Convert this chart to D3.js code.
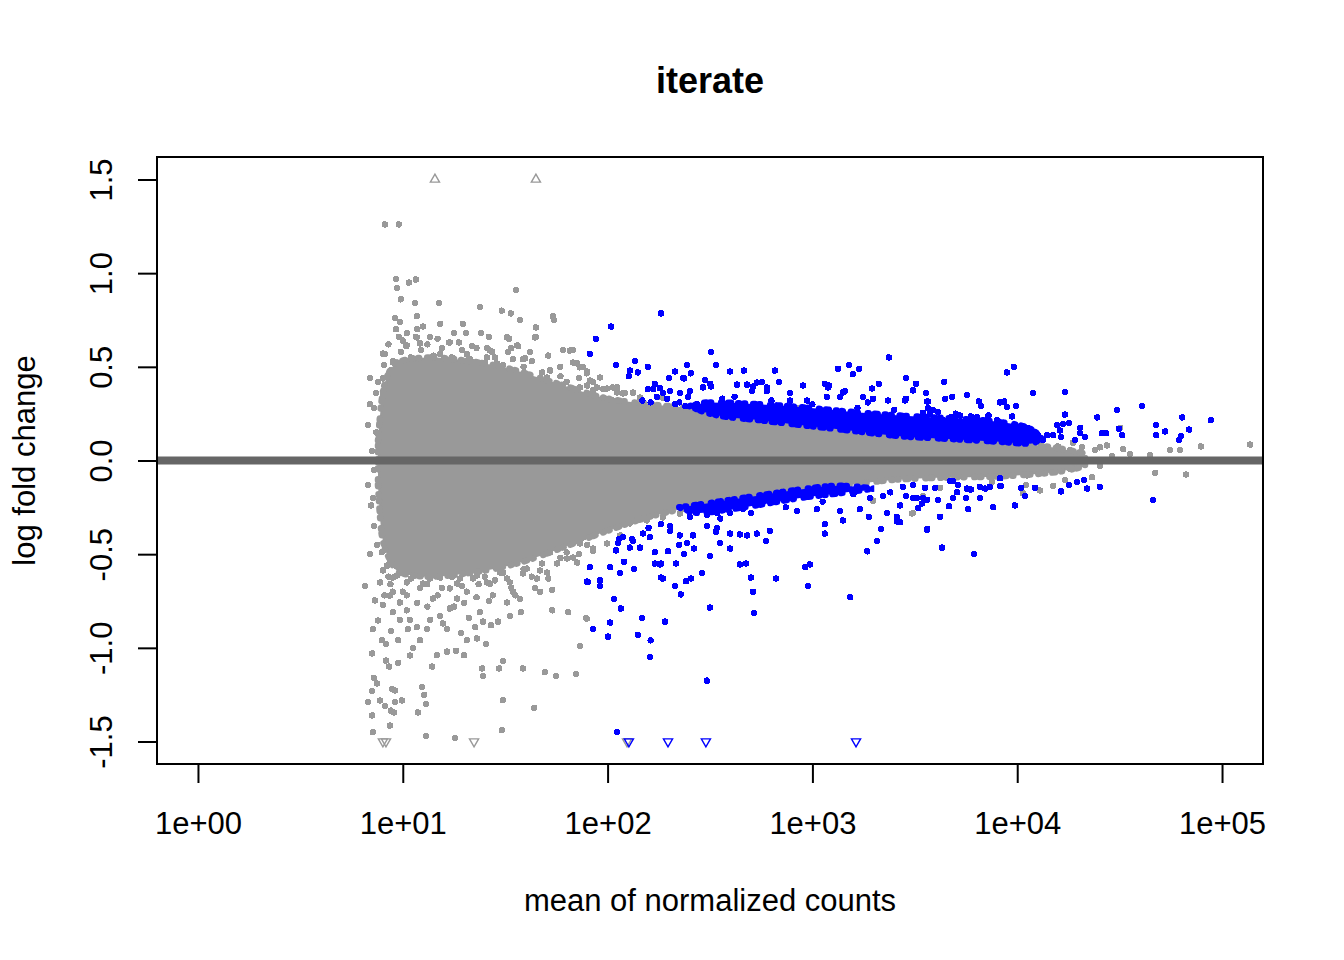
<!DOCTYPE html>
<html>
<head>
<meta charset="utf-8">
<script src="https://cdn.jsdelivr.net/npm/d3@7"></script>
<style>
  body { margin: 0; background: #fff; }
  svg text { font-family: "Liberation Sans", Arial, sans-serif; fill: #000; }
</style>
</head>
<body>
<div id="chart"></div>
<script>
// MA plot, values: [log10(mean of normalized counts), log fold change]
const titleText = "iterate";
const xTicks = [1, 10, 100, 1000, 10000, 100000];
const xTickLabels = ["1e+00", "1e+01", "1e+02", "1e+03", "1e+04", "1e+05"];
const yTicks = [-1.5, -1.0, -0.5, 0.0, 0.5, 1.0, 1.5];
const yTickLabels = ["-1.5", "-1.0", "-0.5", "0.0", "0.5", "1.0", "1.5"];

// dense core of the non-significant cloud: log10 mean, low edge, high edge
const coreLogMean = [0.879, 0.898, 0.9375, 0.986, 1.133, 1.328, 1.523, 1.670, 1.816, 1.963, 2.207, 2.451, 2.695, 2.939, 3.184, 3.428, 3.672, 3.916, 4.063, 4.209, 4.331];
const coreLow  = [-0.133, -0.400, -0.530, -0.600, -0.620, -0.600, -0.560, -0.510, -0.450, -0.390, -0.300, -0.240, -0.198, -0.160, -0.128, -0.101, -0.091, -0.085, -0.075, -0.059, -0.032];
const coreHigh = [0.107, 0.330, 0.480, 0.530, 0.550, 0.530, 0.490, 0.440, 0.390, 0.340, 0.300, 0.275, 0.235, 0.198, 0.166, 0.139, 0.117, 0.101, 0.085, 0.064, 0.037];

// dense bands of significant genes
const upBandLogMean = [2.40, 2.50, 2.744, 2.939, 3.184, 3.428, 3.672, 3.916, 4.063, 4.12];
const upBandLow  = [0.29, 0.25, 0.215, 0.190, 0.160, 0.130, 0.115, 0.100, 0.090, 0.12];
const upBandHigh = [0.29, 0.31, 0.300, 0.285, 0.260, 0.240, 0.225, 0.205, 0.170, 0.12];
const downBandLogMean = [2.35, 2.45, 2.60, 2.75, 2.94, 3.13, 3.30];
const downBandLow  = [-0.25, -0.280, -0.260, -0.235, -0.200, -0.175, -0.15];
const downBandHigh = [-0.25, -0.235, -0.210, -0.185, -0.155, -0.135, -0.15];

const grayPoints = [
  [0.913,1.26],[0.981,1.26],[0.967,0.97],[0.972,0.92],[1.03,0.95],[1.064,0.966],[0.991,0.86],[1.06,0.84],[1.177,0.84],[1.377,0.82],
  [1.553,0.91],[1.484,0.80],[1.528,0.785],[1.572,0.75],[1.733,0.77],[1.738,0.75],[0.962,0.76],[1.069,0.77],[0.986,0.74],[0.967,0.70],
  [1.099,0.715],[1.182,0.73],[1.294,0.73],[1.309,0.68],[1.382,0.68],[1.650,0.71],[1.650,0.66],[0.981,0.66],[1.064,0.66],[1.133,0.66],
  [1.519,0.65],[0.84,0.44],[0.859,0.28],[0.83,0.19],[0.903,0.35],[0.908,0.51],[0.952,0.53],[1.016,0.61],[1.226,0.63],[1.274,0.63],
  [1.338,0.61],[1.411,0.60],[1.436,0.58],[1.514,0.58],[1.563,0.61],[1.621,0.58],[1.782,0.59],[1.831,0.59],[1.851,0.52],[1.768,0.50],
  [1.719,0.48],[1.313,0.57],[1.343,0.52],[1.411,0.55],[1.538,0.54],[1.587,0.54],[1.128,0.53],[1.182,0.57],[0.913,0.57],[1.880,0.50],
  [1.899,0.475],[1.929,0.42],[1.978,0.38],[2.046,0.39],[2.085,0.36],[2.124,0.36],[1.865,0.39],[1.831,0.32],[1.802,0.19],
  [0.903,0.571],[0.952,0.523],[1.020,0.614],[1.084,0.625],[1.230,0.630],[1.313,0.566],[1.426,0.587],[1.509,0.657],[1.558,0.614],[1.597,0.545],
  [1.646,0.657],[1.719,0.481],[1.816,0.587],[1.831,0.523],[1.899,0.465],[1.948,0.390],[1.997,0.384],[2.046,0.363],[0.903,0.438],[0.952,0.427],
  [1.069,0.657],[1.216,0.523],[1.362,0.523],[1.460,0.518],[1.489,0.443],[1.704,0.443],[1.851,0.518],[1.963,0.443],[2.026,0.320],
  [1.865,0.497],[1.914,0.427],[1.929,0.374],[2.026,0.39],[2.075,0.358],[2.124,0.363],[2.158,0.336],[2.266,0.336],[2.925,0.278],[2.437,0.278],
  [1.05,0.50],[1.16,0.51],[1.27,0.49],[1.38,0.48],[1.46,0.47],[1.60,0.45],[1.00,0.50],[1.20,0.46],[1.74,0.40],[1.56,0.46],
  [0.93,0.62],[0.99,0.58],[1.04,0.55],[1.09,0.59],[1.12,0.62],[1.15,0.56],[1.19,0.60],[1.24,0.55],[1.29,0.59],[1.33,0.54],
  [1.36,0.60],[1.40,0.52],[1.45,0.55],[1.49,0.51],[1.53,0.60],[1.59,0.50],[1.63,0.53],[1.68,0.47],[1.71,0.56],[1.77,0.45],
  [1.80,0.42],[1.86,0.44],[1.90,0.40],[0.96,0.46],[1.11,0.49],[1.22,0.50],[1.34,0.48],[1.48,0.49],[1.07,0.70],[1.25,0.68],
  [1.42,0.66],[1.00,0.64],[0.94,0.48],[1.02,0.68],[1.17,0.65],
  [0.85,0.05],[0.86,-0.05],[0.84,0.30],[0.87,0.36],[0.86,-0.35],[0.84,-0.50],[0.87,0.15],[0.855,-0.20],[0.88,0.42],[0.875,-0.45],
  [0.83,-0.13],[0.845,-0.24],[0.815,-0.67],[0.933,-0.44],[0.898,-0.49],[0.903,-0.77],[0.854,-0.90],[0.942,-0.91],[0.898,-0.96],[0.918,-0.98],
  [0.850,-1.03],[0.977,-0.96],[1.025,-0.90],[1.084,-0.96],[1.050,-1.00],[0.933,-1.10],[0.977,-1.08],[0.859,-1.16],[0.874,-1.19],[0.850,-1.23],
  [0.830,-1.29],[0.947,-1.22],[0.913,-1.31],[0.942,-1.335],[0.962,-1.29],[0.957,-1.345],[1.094,-1.21],[1.104,-1.25],[1.113,-1.30],[1.074,-1.345],
  [0.854,-1.45],[1.113,-1.47],[1.255,-1.48],[1.484,-1.44],[1.489,-1.28],[1.641,-1.32],[1.143,-1.10],[1.167,-1.04],[1.216,-1.02],[1.260,-1.015],
  [1.299,-1.04],[1.387,-1.11],[1.392,-1.15],[1.470,-1.11],[1.489,-1.07],[1.587,-1.11],[1.694,-1.13],[1.748,-1.15],[1.846,-1.14],[1.865,-0.99],
  [1.895,-0.84],[1.729,-0.80],[1.807,-0.81],[1.577,-0.81],[1.406,-0.98],[1.362,-0.95],[1.313,-0.96],[1.284,-0.92],[1.353,-0.89],[1.392,-0.86],
  [1.465,-0.86],[1.523,-0.83],[1.431,-0.88],[1.323,-0.84],[1.216,-0.90],[1.196,-0.87],[1.182,-0.83],[1.118,-0.90],[1.069,-0.89],[1.133,-0.85],
  [1.035,-0.85],[0.986,-0.85],[0.952,-0.81],[1.23,-0.79],[1.377,-0.81],[1.572,-0.74],[1.538,-0.70],[1.670,-0.70],[1.729,-0.69],[1.646,-0.68],
  [1.44,-0.72],[1.313,-0.70],[1.084,-0.68],[1.02,-0.72],[0.952,-0.70],[0.864,-0.747],[0.879,-0.854],[0.918,-1.068],[0.962,-1.228],[0.889,-1.281],
  [0.850,-1.361],[0.9375,-1.415],[1.035,-1.041],[0.996,-1.281],
  [0.9375,-0.534],[0.903,-0.587],[0.952,-0.625],[1.020,-0.587],[1.099,-0.657],[1.182,-0.625],[1.265,-0.657],[1.343,-0.630],[1.426,-0.657],[1.509,-0.630],
  [1.587,-0.603],[1.670,-0.587],[1.753,-0.550],[1.831,-0.518],[1.865,-0.443],[1.929,-0.481],[1.997,-0.443],[0.923,-0.561],[0.972,-0.614],[1.020,-0.651],
  [1.069,-0.577],[1.133,-0.630],[1.230,-0.683],[1.279,-0.630],[1.362,-0.614],[1.411,-0.651],[1.475,-0.598],[1.523,-0.651],[1.606,-0.577],[1.655,-0.630],
  [1.704,-0.598],[1.802,-0.523],[1.851,-0.545],[0.889,-0.651],[0.9375,-0.721],[0.986,-0.758],[1.147,-0.737],[1.265,-0.737],[1.509,-0.758],
  [1.05,-0.56],[1.18,-0.57],[1.31,-0.56],[1.45,-0.55],[1.56,-0.53],[1.72,-0.49],[1.00,-0.58],[1.25,-0.59],[1.40,-0.58],[1.62,-0.52],
  [0.93,-0.62],[0.99,-0.60],[1.04,-0.63],[1.09,-0.61],[1.12,-0.66],[1.15,-0.60],[1.19,-0.68],[1.24,-0.62],[1.29,-0.67],[1.33,-0.60],
  [1.37,-0.66],[1.40,-0.62],[1.45,-0.64],[1.49,-0.60],[1.53,-0.68],[1.59,-0.58],[1.63,-0.62],[1.68,-0.55],[1.71,-0.63],[1.77,-0.52],
  [1.80,-0.49],[1.86,-0.50],[1.90,-0.45],[0.96,-0.56],[1.11,-0.58],[1.22,-0.57],[1.34,-0.58],[1.48,-0.57],[1.07,-0.76],[1.25,-0.78],
  [1.42,-0.75],[1.00,-0.70],[0.94,-0.66],[1.02,-0.80],[1.17,-0.72],[1.30,-0.76],[1.36,-0.73],[1.55,-0.72],[1.12,-0.78],[0.91,-0.72],
  [1.880,-0.411],[1.929,-0.470],[1.899,-0.844],[2.061,-0.40],[2.109,-0.336],[2.192,-0.320],[2.270,-0.304],[2.353,-0.283],[1.997,-0.336],[3.486,-0.283],[3.296,-0.214],
  [5.137,0.085],[4.897,0.075],[4.795,0.055],[4.746,0.055],[4.517,0.06],[4.502,0.175],[4.648,0.03],[4.551,0.035],[4.463,0.025],[4.404,0.07],
  [4.438,0.08],[4.380,0.055],[4.316,0.07],[4.272,0.095],[4.258,0.055],[4.199,0.075],[4.673,-0.065],[4.824,-0.075],[4.404,-0.03],[4.365,-0.09],
  [4.258,-0.045],[4.233,-0.105],[4.175,-0.135],[4.111,-0.16],[4.048,-0.08],[4.043,-0.13],[4.028,-0.175],[3.877,-0.115],[3.735,0.205],[3.491,-0.28],
  [3.540,-0.19],[3.623,-0.145],[4.146,0.015]
];

const bluePoints = [
  [2.017,0.715],[1.943,0.65],[1.914,0.57],[2.041,0.51],[2.134,0.53],[2.109,0.48],[2.104,0.45],[2.148,0.47],
  [2.261,0.785],[2.505,0.58],[2.197,0.50],[2.388,0.51],[2.329,0.475],[2.407,0.465],[2.300,0.44],[2.368,0.44],[2.529,0.51],[2.598,0.475],
  [2.666,0.48],[2.817,0.48],[2.754,0.42],[2.837,0.42],[2.954,0.40],[3.076,0.39],[3.125,0.49],[3.179,0.51],[3.228,0.49],[3.198,0.46],
  [3.374,0.55],[3.325,0.41],[3.457,0.44],[3.506,0.41],[2.476,0.43],[2.466,0.39],[2.505,0.395],[2.632,0.405],[2.681,0.405],[2.710,0.395],
  [2.705,0.37],[2.231,0.41],[2.256,0.385],[2.222,0.38],[2.197,0.38],[2.270,0.36],[2.305,0.37],[2.353,0.36],[2.393,0.34],[2.402,0.37],
  [2.241,0.34],[2.290,0.33],[2.437,0.30],[2.891,0.36],[2.891,0.32],[2.778,0.37],[2.974,0.32],[3.071,0.34],[3.135,0.34],[3.159,0.37],
  [3.247,0.34],[3.369,0.32],[3.452,0.32],[3.271,0.31],[2.17,0.32],[2.21,0.31],[2.35,0.31],[2.38,0.29],[2.33,0.30],[2.373,0.438],
  [3.081,0.40],[3.291,0.384],[3.560,0.315],[2.50,0.41],[2.729,0.416],[2.778,0.39],[3.061,0.41],[3.149,0.363],[3.296,0.33],[3.491,0.374],
  [3.643,0.42],[3.555,0.36],[3.457,0.33],[3.564,0.315],[3.648,0.33],[3.682,0.34],[3.755,0.35],[3.813,0.315],[3.823,0.29],[3.916,0.31],
  [3.936,0.315],[3.950,0.285],[3.994,0.29],[3.950,0.47],[3.984,0.50],[4.077,0.36],[4.233,0.365],[4.233,0.245],[4.194,0.19],[4.223,0.195],
  [4.253,0.20],[4.209,0.16],[4.214,0.125],[4.307,0.175],[4.307,0.145],[4.331,0.125],[4.282,0.11],[4.390,0.23],[4.414,0.145],[4.434,0.145],
  [4.487,0.27],[4.497,0.17],[4.512,0.135],[4.609,0.29],[4.678,0.19],[4.678,0.135],[4.722,0.155],[4.805,0.23],[4.839,0.165],[4.800,0.13],
  [4.790,0.11],[4.946,0.215],[4.102,0.135],[4.126,0.11],[4.097,0.105],[4.146,0.135],[4.175,0.135],[4.048,0.175],[4.028,0.15],[3.975,0.235],
  [3.901,0.215],[3.857,0.225],[3.804,0.23],[3.774,0.235],[3.721,0.24],[3.677,0.23],[3.638,0.215],[3.589,0.27],[3.564,0.28],[3.574,0.25],
  [3.540,0.255],[3.613,0.26],[2.56,0.33],[2.62,0.34],[2.80,0.32],[3.00,0.30],[3.22,0.28],[3.40,0.27],[3.70,0.25],[3.86,0.24],
  [2.046,-1.45],[1.904,-0.65],[1.914,-0.57],[1.963,-0.64],[1.963,-0.67],[2.012,-0.57],[2.031,-0.74],[2.065,-0.79],[2.012,-0.865],[1.929,-0.90],
  [2.002,-0.94],[2.041,-0.48],[2.061,-0.60],[2.080,-0.54],[2.129,-0.58],[2.056,-0.42],[2.119,-0.42],[2.148,-0.93],[2.168,-0.84],[2.256,-0.555],
  [1.899,-0.646],[2.485,-1.175],[2.207,-1.05],[2.28,-0.86],[2.21,-0.96],
  [2.231,-0.49],[2.295,-0.485],[2.373,-0.50],[2.349,-0.45],[2.422,-0.47],[2.231,-0.55],[2.261,-0.55],[2.334,-0.55],[2.461,-0.60],[2.50,-0.51],
  [2.261,-0.625],[2.270,-0.63],[2.329,-0.67],[2.358,-0.715],[2.383,-0.645],[2.407,-0.63],[2.50,-0.785],[2.529,-0.38],[2.549,-0.44],[2.598,-0.47],
  [2.646,-0.555],[2.676,-0.55],[2.700,-0.625],[2.710,-0.70],[2.715,-0.815],[2.773,-0.43],[2.822,-0.63],[2.964,-0.57],[2.988,-0.555],[2.979,-0.67],
  [3.061,-0.34],[3.061,-0.39],[3.184,-0.73],[3.267,-0.485],[3.315,-0.43],[3.335,-0.365],[3.413,-0.325],[3.560,-0.365],[3.633,-0.465],[3.789,-0.50],
  [3.882,-0.25],[3.760,-0.26],[3.623,-0.30],[3.149,-0.32],[3.276,-0.30],[3.413,-0.30],[2.646,-0.395],[2.681,-0.40],[2.729,-0.39],[2.793,-0.375],
  [2.598,-0.39],[2.534,-0.36],[2.485,-0.35],[2.417,-0.40],[2.305,-0.375],[2.353,-0.40],[2.388,-0.44],[2.173,-0.39],[2.207,-0.41],[2.124,-0.43],
  [2.075,-0.41],[2.158,-0.465],[2.109,-0.465],[2.051,-0.44],[2.305,-0.35],[2.402,-0.30],[2.485,-0.29],[2.534,-0.28],[2.598,-0.28],[2.661,-0.26],
  [2.759,-0.22],[2.827,-0.215],[2.925,-0.27],[3.022,-0.26],[3.135,-0.27],[3.232,-0.26],[3.364,-0.28],[3.428,-0.24],[3.511,-0.20],[3.672,-0.11],
  [3.706,-0.17],[3.755,-0.15],[3.818,-0.14],[3.867,-0.14],[3.916,-0.135],[3.687,-0.20],[3.540,-0.20],[3.442,-0.14],[3.491,-0.13],[3.345,-0.19],
  [3.281,-0.20],[3.457,-0.19],[3.491,-0.20],[3.550,-0.145],[3.599,-0.145],[3.560,-0.21],[3.535,-0.23],[3.516,-0.255],[3.613,-0.21],[3.667,-0.245],
  [3.687,-0.11],[3.711,-0.13],[3.750,-0.20],[3.774,-0.155],[3.818,-0.20],[3.843,-0.15],[3.916,-0.095],[3.921,-0.135],[3.989,-0.24],[4.019,-0.145],
  [4.038,-0.19],[4.087,-0.145],[4.214,-0.165],[4.253,-0.13],[4.292,-0.115],[4.326,-0.105],[4.341,-0.15],[4.404,-0.14],[4.663,-0.21],[3.560,-0.37],
  [3.428,-0.33],[2.20,-0.36],[2.26,-0.34],[2.55,-0.31],[2.70,-0.28],[2.87,-0.25],[3.05,-0.22],[3.20,-0.18],[3.38,-0.17]
];

// genes outside the y limits, drawn as triangles at +/-1.5
const upTriLogMean = [1.157, 1.650];
const upTriColor = ["gray", "gray"];
const downTriLogMean = [0.903, 0.918, 1.348, 2.095, 2.104, 2.295, 2.480, 3.213];
const downTriColor = ["gray", "gray", "gray", "gray", "blue", "blue", "blue", "blue"];

const colors = { gray: "#999999", blue: "#0000ff", line: "#666666" };

const W = 1344, H = 960;
const plot = { left: 157, right: 1263, top: 157, bottom: 764 };
const radius = 3.2;

const svg = d3.select("#chart").append("svg")
  .attr("width", W).attr("height", H);

const x = d3.scaleLog().domain([Math.pow(10, -0.2), Math.pow(10, 5.2)]).range([plot.left, plot.right]);
const y = d3.scaleLinear().domain([-1.62, 1.62]).range([plot.bottom, plot.top]);
const xm = v => x(Math.pow(10, v));

svg.append("clipPath").attr("id", "clip").append("rect")
  .attr("x", plot.left).attr("y", plot.top)
  .attr("width", plot.right - plot.left).attr("height", plot.bottom - plot.top);

const g = svg.append("g").attr("clip-path", "url(#clip)");

// filled band; a dotted outline of the same colour keeps its edge grainy
function band(xs, lo, hi, color) {
  const rows = xs.map((v, i) => ({ x: v, lo: lo[i], hi: hi[i] }));
  const area = d3.area().x(d => xm(d.x)).y0(d => y(d.lo)).y1(d => y(d.hi)).curve(d3.curveMonotoneX);
  g.append("path").datum(rows).attr("d", area)
    .attr("fill", color)
    .attr("stroke", color).attr("stroke-width", 6.5)
    .attr("stroke-linecap", "round")
    .attr("stroke-dasharray", "1 5 1 8 2 4 1 10 1 6 3 7");
}

function dots(data, color) {
  g.append("g").selectAll("circle").data(data).join("circle")
    .attr("cx", d => xm(d[0])).attr("cy", d => y(d[1]))
    .attr("r", radius).attr("fill", color)
    .attr("shape-rendering", "crispEdges");
}

band(coreLogMean, coreLow, coreHigh, colors.gray);
dots(grayPoints, colors.gray);
band(upBandLogMean, upBandLow, upBandHigh, colors.blue);
band(downBandLogMean, downBandLow, downBandHigh, colors.blue);
dots(bluePoints, colors.blue);

// open triangles
const tri = d3.symbol().type(d3.symbolTriangle).size(36);
g.append("g").selectAll("path").data(upTriLogMean).join("path")
  .attr("d", tri)
  .attr("transform", d => `translate(${xm(d)},${y(1.5)})`)
  .attr("fill", "none").attr("stroke-width", 1.4)
  .attr("stroke", (d, i) => colors[upTriColor[i]]);
g.append("g").selectAll("path").data(downTriLogMean).join("path")
  .attr("d", tri)
  .attr("transform", d => `translate(${xm(d)},${y(-1.5)}) rotate(180)`)
  .attr("fill", "none").attr("stroke-width", 1.4)
  .attr("stroke", (d, i) => colors[downTriColor[i]]);

// zero line
g.append("line")
  .attr("x1", plot.left).attr("x2", plot.right)
  .attr("y1", y(0)).attr("y2", y(0))
  .attr("stroke", colors.line).attr("stroke-width", 8);

// box
svg.append("rect")
  .attr("x", plot.left).attr("y", plot.top)
  .attr("width", plot.right - plot.left).attr("height", plot.bottom - plot.top)
  .attr("fill", "none").attr("stroke", "#000").attr("stroke-width", 2);

// axes
const xaxis = d3.axisBottom(x).tickValues(xTicks)
  .tickFormat((d, i) => xTickLabels[i]).tickSize(19).tickPadding(0);
const gx = svg.append("g").attr("transform", `translate(0,${plot.bottom})`).call(xaxis);
gx.select(".domain").remove();
gx.selectAll(".tick line").attr("stroke", "#000").attr("stroke-width", 2);
gx.selectAll(".tick text").attr("y", 70).attr("dy", 0)
  .style("font-size", "31px");

const yaxis = d3.axisLeft(y).tickValues(yTicks)
  .tickFormat((d, i) => yTickLabels[i]).tickSize(19);
const gy = svg.append("g").attr("transform", `translate(${plot.left},0)`).call(yaxis);
gy.select(".domain").remove();
gy.selectAll(".tick line").attr("stroke", "#000").attr("stroke-width", 2);
gy.selectAll(".tick text")
  .attr("x", 0).attr("y", 0).attr("dy", 0)
  .attr("transform", "translate(-45,0) rotate(-90)")
  .attr("text-anchor", "middle")
  .style("font-size", "31px");

// titles
svg.append("text")
  .attr("x", (plot.left + plot.right) / 2).attr("y", 93)
  .attr("text-anchor", "middle")
  .style("font-size", "36px").style("font-weight", "bold")
  .text(titleText);

svg.append("text")
  .attr("x", (plot.left + plot.right) / 2).attr("y", 911)
  .attr("text-anchor", "middle")
  .style("font-size", "31px")
  .text("mean of normalized counts");

svg.append("text")
  .attr("transform", `translate(35,${(plot.top + plot.bottom) / 2}) rotate(-90)`)
  .attr("text-anchor", "middle")
  .style("font-size", "31px")
  .text("log fold change");
</script>
</body>
</html>
